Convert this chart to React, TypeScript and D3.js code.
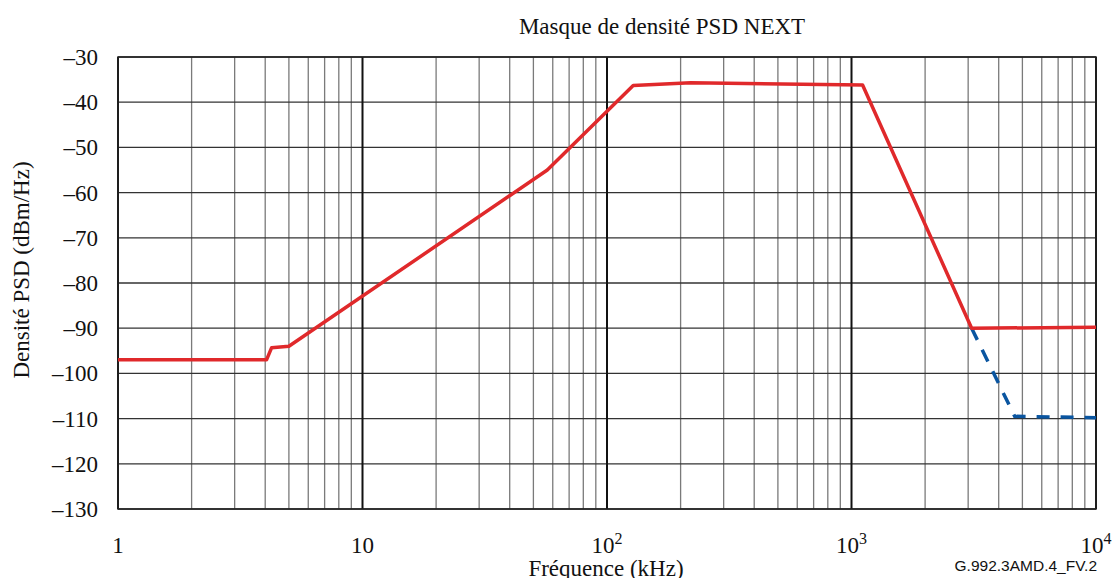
import React from "react";
import * as d3 from "d3";

const redFreq = [1, 4.05, 4.25, 5.0, 57, 128, 220, 1110, 3100, 10000];
const redPsd = [-97, -97, -94.3, -94.0, -55, -36.3, -35.7, -36.2, -90, -89.8];
const blueFreq = [3100, 4650, 10000];
const bluePsd = [-90, -109.5, -109.8];
const yTicks = [-30, -40, -50, -60, -70, -80, -90, -100, -110, -120, -130];
const xDecades = [1, 10, 100, 1000, 10000];

const W = 1112, H = 578;
const L = 118, R = 1096, T = 57, B = 509;

export default function App() {
  const x = d3.scaleLog().domain([1, 10000]).range([L, R]);
  const y = d3.scaleLinear().domain([-130, -30]).range([B, T]);
  const minors: number[] = [];
  for (let d = 1; d < 10000; d *= 10) for (let k = 2; k <= 9; k++) minors.push(d * k);
  const line = d3.line<[number, number]>().x((p) => x(p[0])).y((p) => y(p[1]));
  const redPts = redFreq.map((f, i) => [f, redPsd[i]] as [number, number]);
  const bluePts = blueFreq.map((f, i) => [f, bluePsd[i]] as [number, number]);
  const serif = "'Liberation Serif', 'Times New Roman', serif";
  const xLabel = (v: number) => {
    if (v === 1) return "1";
    if (v === 10) return "10";
    return null;
  };
  return (
    <svg width={W} height={H} style={{ position: "absolute", left: 0, top: 0, background: "#fff" }} fontFamily={serif}>
      {minors.map((m) => (
        <line key={"m" + m} x1={x(m)} x2={x(m)} y1={T} y2={B} stroke="#7a7a7a" strokeWidth={1.3} />
      ))}
      {yTicks.map((t) => (
        <line key={"h" + t} x1={L} x2={R} y1={y(t)} y2={y(t)} stroke="#333" strokeWidth={1.3} />
      ))}
      {xDecades.map((d) => (
        <line key={"d" + d} x1={x(d)} x2={x(d)} y1={T} y2={B} stroke="#111" strokeWidth={2} />
      ))}
      <rect x={L} y={T} width={R - L} height={B - T} fill="none" stroke="#222" strokeWidth={1.5} />
      <path d={line(bluePts) || ""} fill="none" stroke="#0a55a0" strokeWidth={3.5} strokeDasharray="13,11" />
      <path d={line(redPts) || ""} fill="none" stroke="#e0292b" strokeWidth={3.5} strokeLinejoin="round" />
      {yTicks.map((t) => (
        <text key={"yt" + t} x={98} y={y(t) + 8} textAnchor="end" fontSize={23} fill="#111">
          {"\u2013" + Math.abs(t)}
        </text>
      ))}
      {xDecades.map((d) => {
        const lbl = xLabel(d);
        const e = Math.round(Math.log10(d));
        return (
          <text key={"xt" + d} x={x(d)} y={553} textAnchor="middle" fontSize={23} fill="#111">
            {lbl !== null ? lbl : (
              <>
                <tspan>10</tspan>
                <tspan dy={-9} fontSize={16}>{e}</tspan>
              </>
            )}
          </text>
        );
      })}
      <text x={662} y={34} textAnchor="middle" fontSize={23} fill="#111">Masque de densité PSD NEXT</text>
      <text x={606} y={576} textAnchor="middle" fontSize={23} fill="#111">Fréquence (kHz)</text>
      <text transform={`translate(29,270) rotate(-90)`} textAnchor="middle" fontSize={23} fill="#111">Densité PSD (dBm/Hz)</text>
      <text x={1097} y={571} textAnchor="end" fontSize={15.5} fontFamily="'Liberation Sans', Arial, sans-serif" fill="#111">G.992.3AMD.4_FV.2</text>
    </svg>
  );
}
